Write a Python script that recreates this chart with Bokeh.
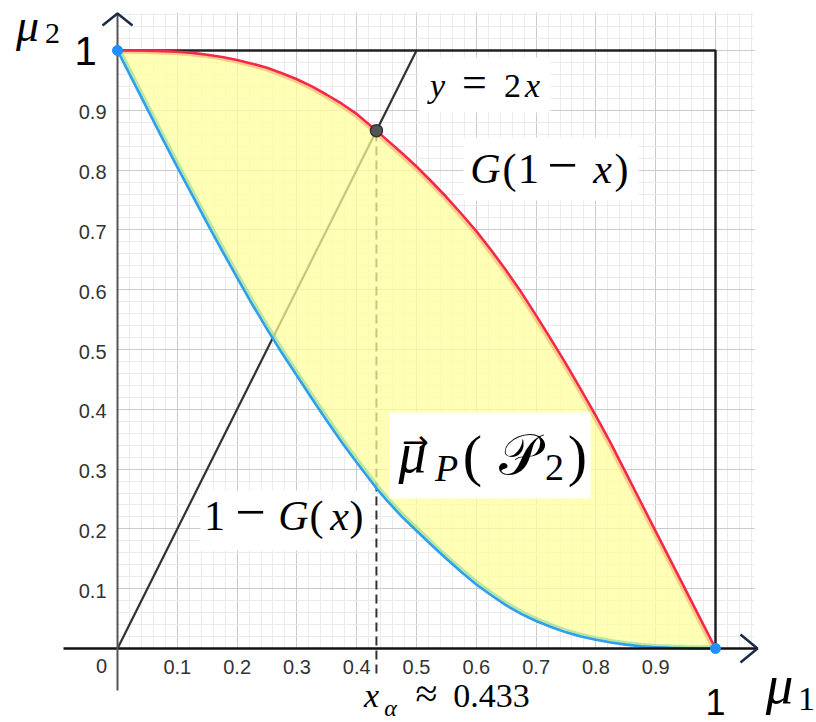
from bokeh.plotting import figure
from bokeh.models import Range1d, Grid, SingleIntervalTicker, ColumnDataSource
from bokeh.core.properties import value
from bokeh.transform import dodge
from bokeh.embed import file_html
from bokeh.resources import INLINE

# Boundary of the attainable region (mu1 on x, mu2 on y)
mu1 = [0.0, 0.025, 0.05, 0.075, 0.1, 0.125, 0.15, 0.175, 0.2, 0.225, 0.25,
       0.275, 0.3, 0.325, 0.35, 0.375, 0.4, 0.433, 0.45, 0.475, 0.5,
       0.525, 0.55, 0.575, 0.6, 0.625, 0.65, 0.675, 0.7, 0.725, 0.75,
       0.775, 0.8, 0.825, 0.85, 0.875, 0.9, 0.925, 0.95, 0.975, 1.0]
# G(1 - x)
upper = [1.000, 1.000, 0.9995, 0.999, 0.998, 0.996, 0.993, 0.989, 0.984, 0.978, 0.971,
         0.962, 0.952, 0.940, 0.926, 0.911, 0.894, 0.866, 0.851, 0.829, 0.806,
         0.781, 0.755, 0.727, 0.698, 0.666, 0.632, 0.596, 0.557, 0.517, 0.476,
         0.433, 0.389, 0.343, 0.294, 0.245, 0.196, 0.147, 0.098, 0.049, 0.0]
# 1 - G(x)
lower = [1.000, 0.951, 0.902, 0.853, 0.805, 0.758, 0.711, 0.665, 0.620, 0.576, 0.534,
         0.494, 0.456, 0.418, 0.381, 0.345, 0.311, 0.268, 0.248, 0.221, 0.197,
         0.173, 0.150, 0.128, 0.107, 0.089, 0.072, 0.058, 0.046, 0.036, 0.027,
         0.020, 0.0145, 0.010, 0.0065, 0.0038, 0.0022, 0.0010, 0.0004, 0.0001, 0.0]

# the ray y = 2x and its crossing with G(1 - x)
x_alpha = 0.433
ray_x = [0.0, 0.5]
ray_y = [2 * v for v in ray_x]

# end points shared by both boundary curves
ends_x = [0.0, 1.0]
ends_y = [1.0, 0.0]

tick_vals = [0.1, 0.2, 0.3, 0.4, 0.5, 0.6, 0.7, 0.8, 0.9]
tick_text = ["0.1", "0.2", "0.3", "0.4", "0.5", "0.6", "0.7", "0.8", "0.9"]

W, H = 816, 722
X0, Y0, PPU = 117, 648, 598   # screen position of the origin, pixels per unit


def ux(px):
    return (px - X0) / PPU


def uy(py):
    return (Y0 - py) / PPU


p = figure(width=W, height=H, x_range=Range1d(ux(0), ux(W)), y_range=Range1d(uy(H), uy(0)),
           x_axis_type=None, y_axis_type=None, toolbar_location=None,
           output_backend="svg", min_border=0)
p.outline_line_color = None
p.background_fill_color = "white"
p.border_fill_color = "white"

# graph-paper grid on the first quadrant only
for dim in (0, 1):
    g = Grid(dimension=dim,
             ticker=SingleIntervalTicker(interval=0.1, num_minor_ticks=5),
             bounds=(0, 1.066) if dim == 0 else (0, 1.063),
             cross_bounds=(0, 1.063) if dim == 0 else (0, 1.066),
             grid_line_color="#cbcbcb", grid_line_width=1,
             minor_grid_line_color="#ebebeb", minor_grid_line_width=1)
    p.add_layout(g)

src = ColumnDataSource(dict(mu1=mu1, upper=upper, lower=lower))

# ray and drop line (drawn under the shaded region)
p.line(ray_x, ray_y, line_color="#333333", line_width=2.2)
p.line([x_alpha, x_alpha], [uy(673), 2 * x_alpha], line_color="#333333",
       line_width=2, line_dash="9 5")

# unit square edges
p.line([0, 1, 1], [1, 1, 0], line_color="#222222", line_width=2.5)

# shaded region between the two curves
p.varea(x="mu1", y1="lower", y2="upper", source=src, fill_color="#ffff99", fill_alpha=0.72)

# soft inner borders of the region
p.line(x=dodge("mu1", -0.003), y=dodge("upper", -0.003), source=src,
       line_color="#f59a55", line_alpha=0.5, line_width=3)
p.line(x=dodge("mu1", 0.003), y=dodge("lower", 0.003), source=src,
       line_color="#6fcf8f", line_alpha=0.5, line_width=3)

# boundary curves
p.line("mu1", "upper", source=src, line_color="#f2294d", line_width=2.6, line_join="round")
p.line("mu1", "lower", source=src, line_color="#2e9ef0", line_width=2.6, line_join="round")

# coordinate axes with open arrow heads
p.line([ux(63), ux(757)], [0, 0], line_color="#111111", line_width=2.5)
p.line([0, 0], [uy(690), uy(13)], line_color="#555555", line_width=2)
p.line([ux(740), ux(757), ux(740)], [uy(634), 0, uy(662)], line_color="#1c2b45", line_width=2.5)
p.line([ux(102), 0, ux(132)], [uy(25), uy(13), uy(25)], line_color="#1c2b45", line_width=2.5)

# marked points
p.scatter([x_alpha], [2 * x_alpha], size=12, fill_color="#555555", line_color="#333333", line_width=1.5)
p.scatter(ends_x, ends_y, size=10, fill_color="#1e90ff", line_color="#1e90ff")

# white boxes behind the formula labels
box_l = [ux(418), ux(463), ux(200), ux(389)]
box_r = [ux(550), ux(638), ux(370), ux(590)]
box_t = [uy(57), uy(137), uy(490), uy(412)]
box_b = [uy(112), uy(200), uy(550), uy(498)]
p.quad(left=box_l, right=box_r, top=box_t, bottom=box_b, fill_color="white", line_color=None)


def put(px, base, s, size, style="normal", font="Liberation Serif", color="black", mid=0.34):
    # place a glyph run centred on px, with its baseline at screen row `base`
    p.text(x=[ux(px)], y=[uy(base - mid * size)], text=[s], text_font=value(font),
           text_font_size=f"{size}px", text_font_style=style, text_align="center",
           text_baseline="middle", text_color=color)


# tick labels
p.text(x=tick_vals, y=[0] * len(tick_vals), text=tick_text, y_offset=18,
       text_font=value("Liberation Sans"), text_font_size="20px", text_color="#333333",
       text_align="center", text_baseline="middle")
p.text(x=[0] * len(tick_vals), y=tick_vals, text=tick_text, x_offset=-11, y_offset=2,
       text_font=value("Liberation Sans"), text_font_size="20px", text_color="#333333",
       text_align="right", text_baseline="middle")
put(101, 673, "0", 20, font="Liberation Sans", color="#333333", mid=0.36)
put(85, 65, "1", 40, font="Liberation Sans", mid=0.36)
put(715, 714, "1", 36, font="Liberation Sans", mid=0.36)

# axis names
put(27, 41, "μ", 46, "italic")
put(52, 43, "2", 30)
put(779, 703, "μ", 55, "italic")
put(806, 710, "1", 34)

# y = 2x
put(437, 97, "y", 34, "italic")
put(474, 97, "=", 44)
put(512, 97, "2", 34)
put(532, 97, "x", 34, "italic")

# G(1 - x)
put(485, 183, "G", 42, "italic")
put(509, 183, "(", 42)
put(528, 183, "1", 42)
put(562, 183, "−", 54)
put(602, 183, "x", 42, "italic")
put(621, 183, ")", 42)

# 1 - G(x)
put(214, 530, "1", 42)
put(250, 530, "−", 54)
put(293, 530, "G", 42, "italic")
put(316, 530, "(", 42)
put(339, 530, "x", 42, "italic")
put(356, 530, ")", 42)

# image of the simplex
p.text(x=[ux(415)], y=[uy(441)], text=["→"], text_font=value("DejaVu Sans"),
       text_font_size="32px", text_align="center", text_baseline="middle", text_color="black")
put(412, 472, "μ", 56, "italic")
put(446, 480, "P", 38, "italic")
put(472, 475, "(", 58)
put(518, 474, "𝒫", 56)
put(554, 480, "2", 38)
put(577, 475, ")", 58)

# x_alpha
put(371, 707, "x", 34, "italic")
put(390, 716, "α", 24, "italic")
put(426, 707, "≈", 40)
put(491, 707, "0.433", 34)

open("out.html", "w").write(file_html(p, INLINE))
